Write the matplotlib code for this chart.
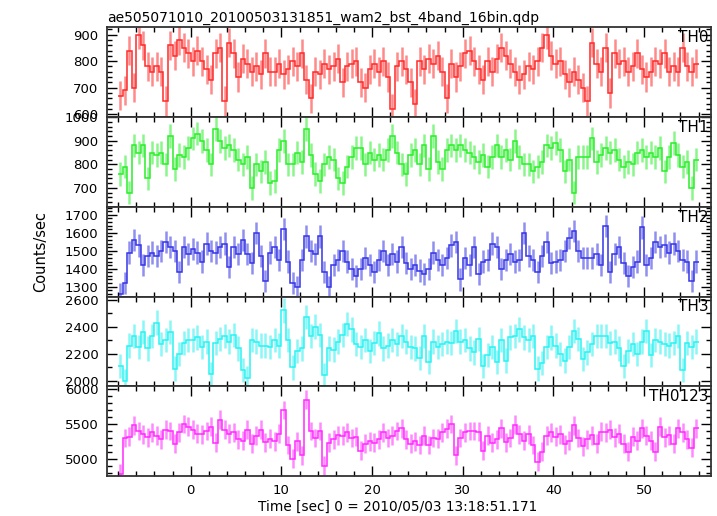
import numpy as np
import matplotlib
matplotlib.use('Agg')
import matplotlib.pyplot as plt
from matplotlib.ticker import MultipleLocator

# light curve, 0.5 s bins starting at t = -8 s
t_start = -8.0
bin_width = 0.5

th0 = [670, 690, 840, 700, 900, 860, 780, 760, 780, 760,
       650, 860, 820, 880, 850, 830, 800, 840, 800, 770,
       730, 830, 850, 650, 870, 830, 740, 810, 790, 760,
       780, 750, 830, 760, 760, 790, 750, 770, 800, 780,
       830, 730, 660, 760, 750, 790, 770, 780, 810, 720,
       780, 790, 800, 720, 700, 770, 790, 760, 800, 740,
       620, 780, 800, 770, 720, 640, 800, 770, 810, 790,
       820, 760, 660, 790, 740, 780, 830, 840, 800, 770,
       730, 800, 760, 810, 850, 820, 790, 760, 730, 750,
       780, 770, 800, 850, 900, 820, 790, 800, 750, 720,
       760, 730, 700, 650, 870, 790, 760, 850, 680, 830,
       790, 800, 760, 780, 830, 770, 740, 760, 800, 790,
       830, 760, 780, 760, 850, 780, 760, 790]

th1 = [760, 790, 680, 880, 850, 880, 740, 850, 840, 850,
       800, 920, 780, 840, 830, 870, 910, 930, 900, 860,
       800, 950, 900, 870, 880, 860, 820, 800, 830, 700,
       800, 770, 810, 720, 730, 860, 900, 800, 800, 850,
       810, 950, 840, 760, 730, 800, 830, 820, 740, 720,
       790, 830, 870, 870, 800, 850, 820, 840, 820, 860,
       920, 850, 800, 760, 840, 860, 800, 880, 780, 920,
       810, 780, 860, 880, 860, 880, 860, 850, 830, 810,
       840, 790, 830, 880, 830, 860, 820, 900, 830, 800,
       800, 770, 790, 810, 880, 870, 890, 860, 770, 820,
       680, 830, 830, 830, 910, 810, 840, 870, 850, 860,
       820, 790, 810, 800, 850, 860, 830, 850, 830, 870,
       770, 830, 890, 840, 790, 810, 700, 820]

th2 = [1260, 1320, 1490, 1560, 1530, 1420, 1470, 1490, 1470, 1500,
       1550, 1520, 1500, 1380, 1520, 1480, 1510, 1490, 1440, 1540,
       1500, 1490, 1520, 1540, 1410, 1520, 1480, 1560, 1480, 1430,
       1600, 1470, 1330, 1490, 1520, 1450, 1620, 1440, 1320, 1300,
       1450, 1580, 1500, 1480, 1580, 1380, 1300, 1420, 1450, 1500,
       1440, 1400, 1360, 1400, 1460, 1420, 1380, 1450, 1500, 1420,
       1480, 1440, 1520, 1430, 1400, 1420, 1390, 1370, 1400, 1490,
       1450, 1420, 1460, 1530, 1550, 1340, 1460, 1420, 1520, 1370,
       1440, 1450, 1540, 1520, 1400, 1450, 1480, 1440, 1450, 1600,
       1470, 1450, 1380, 1470, 1550, 1430, 1440, 1450, 1500, 1570,
       1610, 1500, 1460, 1460, 1460, 1480, 1420, 1640, 1380, 1480,
       1520, 1430, 1360, 1410, 1440, 1630, 1420, 1460, 1550, 1520,
       1530, 1490, 1540, 1500, 1450, 1440, 1330, 1440]

th3 = [2110, 2000, 2260, 2330, 2250, 2360, 2240, 2330, 2430, 2270,
       2300, 2360, 2090, 2200, 2280, 2300, 2300, 2320, 2250, 2290,
       2050, 2280, 2310, 2330, 2290, 2340, 2240, 2080, 2020, 2300,
       2290, 2260, 2260, 2250, 2300, 2260, 2520, 2300, 2100, 2220,
       2240, 2470, 2330, 2400, 2340, 2040, 2240, 2230, 2290, 2340,
       2420, 2380, 2270, 2250, 2300, 2220, 2280, 2350, 2240, 2260,
       2300, 2270, 2330, 2290, 2250, 2240, 2170, 2330, 2140, 2290,
       2250, 2270, 2290, 2280, 2370, 2290, 2300, 2240, 2210, 2310,
       2110, 2190, 2250, 2140, 2300, 2150, 2320, 2330, 2380, 2320,
       2300, 2330, 2090, 2130, 2250, 2320, 2260, 2200, 2150, 2250,
       2370, 2310, 2160, 2210, 2270, 2330, 2330, 2330, 2280, 2290,
       2240, 2110, 2220, 2270, 2200, 2290, 2370, 2190, 2300, 2290,
       2270, 2260, 2280, 2330, 2080, 2280, 2250, 2290]

th0123 = [4790, 5300, 5320, 5480, 5400, 5350, 5310, 5380, 5330, 5280,
          5420, 5400, 5220, 5380, 5500, 5460, 5420, 5360, 5350, 5400,
          5460, 5230, 5560, 5420, 5360, 5380, 5280, 5260, 5420, 5220,
          5330, 5420, 5240, 5290, 5250, 5360, 5700, 5200, 5000, 5250,
          5050, 5850, 5400, 5300, 5400, 4900, 5230, 5280, 5340, 5330,
          5380, 5300, 5320, 5120, 5220, 5250, 5230, 5280, 5380, 5300,
          5330, 5400, 5440, 5280, 5220, 5250, 5200, 5330, 5200, 5300,
          5290, 5380, 5430, 5500, 5050, 5300, 5380, 5400, 5400, 5390,
          5120, 5330, 5230, 5280, 5440, 5240, 5300, 5490, 5350, 5260,
          5350, 5200, 4960, 5100, 5330, 5380, 5320, 5350, 5210, 5260,
          5480, 5300, 5180, 5280, 5340, 5220, 5390, 5380, 5420, 5310,
          5360, 5220, 5100, 5320, 5260, 5440, 5330, 5260, 5100, 5460,
          5310, 5340, 5220, 5440, 5380, 5280, 5160, 5440]

band_names = ['TH0', 'TH1', 'TH2', 'TH3', 'TH0123']
band_errors = [55, 50, 62, 90, 135]
band_ylims = [(590, 927), (620, 1000), (1245, 1745), (1960, 2622), (4755, 6040)]
band_major = [100, 100, 100, 200, 500]
band_minor = [20, 20, 20, 100, 100]
band_colors = ['#ff2a2a', '#2aee2a', '#3434e6', '#2af2f2', '#ff2aff']
series = [th0, th1, th2, th3, th0123]

fig, axes = plt.subplots(5, 1, sharex=True, figsize=(7.17, 5.16), dpi=100)
fig.subplots_adjust(left=0.1488, right=0.992, top=0.947, bottom=0.0775, hspace=0)

for ax, vals, name, err, ylim, maj, mnr, col in zip(
        axes, series, band_names, band_errors, band_ylims, band_major, band_minor, band_colors):
    vals = np.array(vals, dtype=float)
    edges = t_start + bin_width * np.arange(len(vals) + 1)
    centers = 0.5 * (edges[:-1] + edges[1:])
    ax.vlines(centers, vals - err, vals + err, color=col, lw=1.8, alpha=0.55)
    ax.stairs(vals, edges, baseline=None, color=col, lw=1.1)
    ax.set_ylim(*ylim)
    ax.yaxis.set_major_locator(MultipleLocator(maj))
    ax.yaxis.set_minor_locator(MultipleLocator(mnr))
    ax.text(0.995, 0.97, name, transform=ax.transAxes, ha='right', va='top', fontsize=11)
    ax.tick_params(which='both', direction='in', top=True, right=True, labelsize=9.5, width=1)
    ax.tick_params(which='major', length=7, pad=6)
    ax.tick_params(which='minor', length=3.5)
    for sp in ax.spines.values():
        sp.set_linewidth(1.3)
        sp.set_color('#333333')

axes[-1].set_xlim(-9.26, 57.4)
axes[-1].xaxis.set_major_locator(MultipleLocator(10))
axes[-1].xaxis.set_minor_locator(MultipleLocator(2))
axes[-1].set_xlabel('Time [sec] 0 = 2010/05/03 13:18:51.171', fontsize=9.8)
axes[-1].xaxis.set_label_coords(0.481, -0.27)
fig.text(0.057, 0.512, 'Counts/sec', rotation=90, ha='center', va='center', fontsize=10.5)
axes[0].set_title('ae505071010_20100503131851_wam2_bst_4band_16bin.qdp', loc='left', fontsize=10, pad=4)

plt.savefig('out.png', dpi=100)
